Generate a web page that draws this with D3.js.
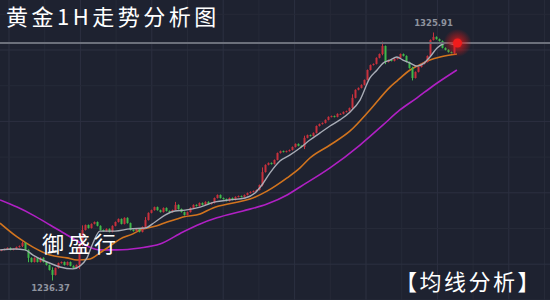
<!DOCTYPE html>
<html>
<head>
<meta charset="utf-8">
<script src="https://cdn.jsdelivr.net/npm/d3@7"></script>
<style>
  body { margin: 0; background: #1e2230; }
  svg { display: block; }
</style>
</head>
<body>
<div id="chart"></div>
<script>
// gold 1H closes
let closes = [
  1247.3, 1247.6, 1248.0, 1247.3, 1247.6, 1248.3, 1248.7, 1249.8, 1247.3, 1244.4,
  1242.9, 1244.4, 1242.9, 1244.4, 1242.9, 1241.8, 1240.0, 1238.2, 1240.7, 1242.5,
  1242.9, 1241.8, 1242.9, 1241.5, 1240.7, 1241.8, 1249.1, 1254.5, 1256.3, 1255.2,
  1256.7, 1257.4, 1256.0, 1254.5, 1254.1, 1254.9, 1253.8, 1256.0, 1257.4, 1258.5,
  1256.7, 1258.9, 1257.0, 1254.5, 1254.1, 1254.9, 1253.8, 1255.6, 1258.1, 1260.7,
  1261.7, 1262.8, 1261.7, 1261.0, 1262.5, 1261.4, 1261.0, 1261.7, 1263.6, 1262.1,
  1261.0, 1259.9, 1261.0, 1262.5, 1263.6, 1263.2, 1264.3, 1263.6, 1264.7, 1263.9,
  1264.3, 1266.1, 1267.2, 1266.1, 1265.7, 1265.0, 1266.1, 1265.4, 1266.5, 1266.8,
  1266.5, 1267.2, 1267.9, 1268.3, 1268.6, 1269.0, 1270.8, 1275.5, 1278.1, 1278.8,
  1278.4, 1279.9, 1282.4, 1283.1, 1282.8, 1283.1, 1283.5, 1284.6, 1285.7, 1285.0,
  1284.6, 1287.9, 1288.9, 1288.6, 1289.7, 1292.2, 1292.9, 1293.3, 1294.4, 1295.5,
  1295.8, 1295.5, 1296.6, 1296.6, 1297.3, 1297.6, 1298.7, 1302.4, 1305.3, 1306.0,
  1307.1, 1308.9, 1312.5, 1314.3, 1314.7, 1316.9, 1318.3, 1321.2, 1315.4, 1316.1,
  1315.8, 1316.5, 1316.9, 1318.3, 1317.6, 1315.4, 1313.2, 1309.6, 1311.8, 1313.6,
  1314.7, 1315.4, 1317.6, 1323.4, 1324.5, 1323.7, 1323.0, 1320.5, 1319.8, 1319.0,
  1318.7, 1322.3
]
let firstOpen = 1247.0

// [candle, high, low] where the wick sticks out
let wicks = [
  [7, 1250.2, 1248.5], [9, 1247.0, 1243.0], [17, 1240.8, 1236.37], [26, 1249.5, 1240.5],
  [27, 1256.0, 1248.8], [48, 1259.0, 1255.0], [58, 1264.5, 1262.5], [87, 1277.0, 1270.5],
  [101, 1288.5, 1284.0], [117, 1303.5, 1298.5], [127, 1322.6, 1318.0], [128, 1321.0, 1314.8],
  [137, 1313.5, 1308.9], [144, 1325.91, 1323.8], [151, 1322.6, 1318.5]
]

// moving averages: [candle position, price]
let maFast = [
  [-0.5, 1247.3], [4.5, 1247.6], [7.8, 1247.3], [10.5, 1245.4], [15.2, 1242.9], [19.5, 1241.1],
  [23.8, 1240.4], [26.2, 1241.5], [28.5, 1244.4], [30.5, 1249.8], [32.8, 1254.1], [37.8, 1254.1],
  [42.8, 1254.9], [47.8, 1255.2], [51.2, 1257.4], [54.5, 1259.9], [57.8, 1261.4], [61.2, 1261.7],
  [66.2, 1262.8], [71.2, 1264.7], [76.2, 1265.4], [81.2, 1266.1], [84.5, 1267.9], [86.8, 1270.8],
  [89.5, 1275.2], [92.8, 1279.5], [96.2, 1281.7], [99.5, 1284.2], [102.8, 1287.1], [106.2, 1289.7],
  [109.5, 1292.2], [112.8, 1294.4], [116.2, 1297.3], [119.5, 1301.6], [122.8, 1309.6], [125.2, 1312.5],
  [127.2, 1315.0], [129.5, 1316.1], [131.8, 1317.2], [133.8, 1316.1], [136.2, 1315.0], [138.5, 1313.9],
  [140.5, 1314.7], [142.8, 1317.2], [145.2, 1320.5], [148.5, 1322.3], [151.2, 1321.6]
]
let maMid = [
  [-0.5, 1257.0], [5.2, 1252.0], [10.5, 1248.3], [16.2, 1245.4], [21.8, 1244.4], [25.2, 1243.6],
  [29.5, 1244.0], [32.8, 1246.2], [36.2, 1248.7], [39.5, 1251.2], [43.8, 1253.1], [46.2, 1254.5],
  [51.8, 1256.0], [55.2, 1257.4], [58.5, 1258.5], [60.5, 1259.2], [66.2, 1260.3], [70.5, 1262.5],
  [77.2, 1264.3], [82.8, 1265.7], [88.5, 1268.6], [95.2, 1273.4], [99.5, 1277.0], [102.8, 1280.6],
  [109.5, 1285.3], [116.2, 1290.4], [122.8, 1298.0], [129.5, 1306.3], [131.8, 1308.5], [136.2, 1312.5],
  [138.5, 1313.9], [142.8, 1316.1], [146.2, 1317.2], [151.8, 1318.3]
]
let maSlow = [
  [-0.5, 1265.4], [5.2, 1262.8], [10.5, 1259.9], [16.2, 1256.3], [21.8, 1252.7], [28.5, 1248.7],
  [32.8, 1247.3], [38.5, 1247.3], [46.2, 1248.0], [52.8, 1249.4], [60.5, 1253.8], [66.2, 1256.7],
  [71.8, 1258.9], [80.5, 1261.4], [88.5, 1263.9], [95.2, 1267.2], [99.5, 1270.1], [109.5, 1277.0],
  [119.5, 1285.3], [127.2, 1292.6], [132.8, 1298.0], [138.5, 1302.4], [143.8, 1306.7], [151.8, 1312.5]
]

let highLabel = '1325.91'
let lowLabel = '1236.37'

let width = 550, height = 300

let svg = d3.select('#chart')
  .append('svg')
    .attr('width', width)
    .attr('height', height)

svg.append('rect')
  .attr('width', width).attr('height', height)
  .attr('fill', '#1e2230')

// grid
let step = 35.7
d3.range(0, 16).forEach(k => {
  let gx = 9 + k * step
  svg.append('line')
    .attr('x1', gx).attr('x2', gx).attr('y1', 0).attr('y2', height)
    .attr('stroke', k % 2 == 0 ? '#2c3040' : '#262a38').attr('stroke-width', 1)
})
d3.range(0, 9).forEach(k => {
  let gy = 14.3 + k * step
  svg.append('line')
    .attr('x1', 0).attr('x2', width).attr('y1', gy).attr('y2', gy)
    .attr('stroke', k % 2 == 1 ? '#2c3040' : '#262a38').attr('stroke-width', 1)
})

let x = d3.scaleLinear()
  .domain([0, 151])
  .range([1.5, 454.5])

let y = d3.scaleLinear()
  .domain([1236.37, 1325.91])
  .range([280, 33])

let candles = closes.map((c, i) => {
  let o = i == 0 ? firstOpen : closes[i - 1]
  let w = wicks.find(d => d[0] == i)
  return {
    i: i, open: o, close: c,
    high: w ? Math.max(w[1], o, c) : Math.max(o, c),
    low: w ? Math.min(w[2], o, c) : Math.min(o, c)
  }
})

let upColor = '#c8303c', downColor = '#3fb94a'

// moving averages
let maLine = d3.line()
  .x(d => x(d[0]))
  .y(d => y(d[1]))
  .curve(d3.curveMonotoneX)

svg.append('path').datum(maSlow)
  .attr('d', maLine).attr('fill', 'none')
  .attr('stroke', '#b020c4').attr('stroke-width', 1.6)
svg.append('path').datum(maMid)
  .attr('d', maLine).attr('fill', 'none')
  .attr('stroke', '#d2741e').attr('stroke-width', 1.6)

// candles
svg.selectAll('.wick')
  .data(candles)
  .enter()
  .append('line')
    .attr('x1', d => x(d.i)).attr('x2', d => x(d.i))
    .attr('y1', d => y(d.high) - 0.5).attr('y2', d => y(d.low) + 0.5)
    .attr('stroke', d => d.close >= d.open ? upColor : downColor)
    .attr('stroke-width', 1)

svg.selectAll('.body')
  .data(candles)
  .enter()
  .append('rect')
    .attr('x', d => x(d.i) - 1)
    .attr('width', 2)
    .attr('y', d => y(Math.max(d.open, d.close)))
    .attr('height', d => Math.max(1, Math.abs(y(d.open) - y(d.close))))
    .attr('fill', d => d.close >= d.open ? upColor : downColor)

svg.append('path').datum(maFast)
  .attr('d', maLine).attr('fill', 'none')
  .attr('stroke', '#a8acb6').attr('stroke-width', 1.4)

// last price line
let last = closes[closes.length - 1]
svg.append('line')
  .attr('x1', 0).attr('x2', width)
  .attr('y1', y(last)).attr('y2', y(last))
  .attr('stroke', '#6c707b').attr('stroke-width', 2)

// glowing dot at the last price
let defs = svg.append('defs')
let glow = defs.append('radialGradient').attr('id', 'glow')
glow.append('stop').attr('offset', '0%').attr('stop-color', '#ff1a1a').attr('stop-opacity', 0.95)
glow.append('stop').attr('offset', '45%').attr('stop-color', '#e01818').attr('stop-opacity', 0.5)
glow.append('stop').attr('offset', '100%').attr('stop-color', '#e01818').attr('stop-opacity', 0)

svg.append('circle')
  .attr('cx', x(151) + 3).attr('cy', y(last))
  .attr('r', 14).attr('fill', 'url(#glow)')
svg.append('circle')
  .attr('cx', x(151) + 3).attr('cy', y(last))
  .attr('r', 4.5).attr('fill', '#f01c1c')

// high / low labels
svg.append('text')
  .attr('x', x(144)).attr('y', y(1325.91) - 7)
  .attr('text-anchor', 'middle')
  .style('font-family', 'DejaVu Sans')
  .style('font-size', '8.5px')
  .style('font-weight', 'bold')
  .attr('fill', '#8e939e')
  .text(highLabel)

svg.append('text')
  .attr('x', x(17) - 2).attr('y', y(1236.37) + 11)
  .attr('text-anchor', 'middle')
  .style('font-family', 'DejaVu Sans')
  .style('font-size', '8.5px')
  .style('font-weight', 'bold')
  .attr('fill', '#8e939e')
  .text(lowLabel)

// captions
let cjk = '"Noto Sans CJK SC", sans-serif'
svg.append('text')
  .attr('x', 6).attr('y', 25)
  .style('font-family', cjk)
  .style('font-size', '22px')
  .style('letter-spacing', '3.5px')
  .attr('fill', '#ffffff')
  .text('黄金1H走势分析图')

svg.append('text')
  .attr('x', 42).attr('y', 252)
  .style('font-family', cjk)
  .style('font-size', '22px')
  .style('letter-spacing', '4px')
  .attr('fill', '#ffffff')
  .text('御盛行')

svg.append('text')
  .attr('x', 395).attr('y', 290)
  .style('font-family', cjk)
  .style('font-size', '22px')
  .style('letter-spacing', '2.5px')
  .attr('fill', '#ffffff')
  .text('【均线分析】')
</script>
</body>
</html>
